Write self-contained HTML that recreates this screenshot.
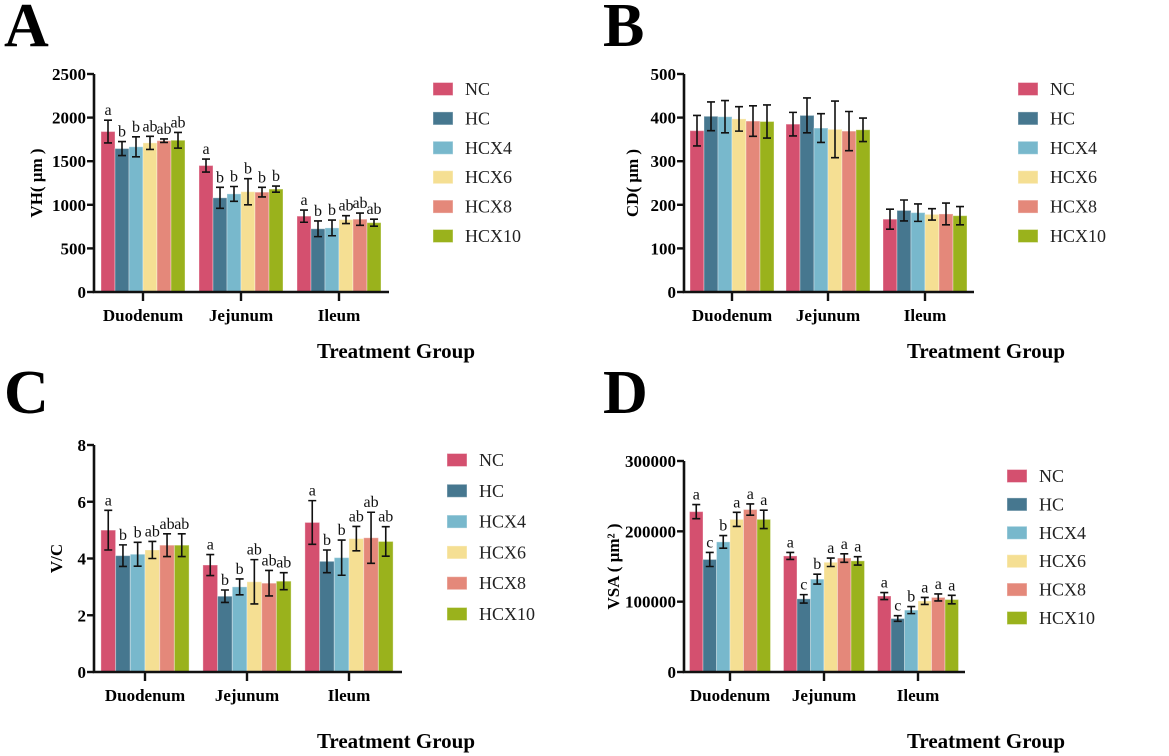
<!DOCTYPE html>
<html><head><meta charset="utf-8"><style>
html,body{margin:0;padding:0;background:#fff;width:1169px;height:756px;overflow:hidden}
svg{display:block}
svg text{font-family:"Liberation Serif","DejaVu Serif","Times New Roman",serif}
</style></head><body>
<svg id="fig" width="1169" height="756" xmlns="http://www.w3.org/2000/svg"></svg>
<script>
const categories = ["Duodenum","Jejunum","Ileum"];
const seriesNames = ["NC","HC","HCX4","HCX6","HCX8","HCX10"];
const colors = ["#d4506f","#46778f","#78b8cc","#f5df93","#e4887a","#9ab21c"];
const vhValues = [[1840,1645,1665,1710,1735,1740],[1450,1080,1125,1150,1145,1180],[870,725,735,830,835,795]];
const vhErrors = [[130,80,115,75,20,90],[75,120,85,150,55,35],[70,90,90,45,70,40]];
const vhLetters = [["a","b","b","ab","ab","ab"],["a","b","b","b","b","b"],["a","b","b","ab","ab","ab"]];
const vhTicks = [0,500,1000,1500,2000,2500];
const cdValues = [[370,403,402,397,392,391],[385,405,376,373,369,372],[167,187,182,178,179,175]];
const cdErrors = [[35,33,37,28,35,38],[27,40,33,65,45,27],[23,24,20,13,25,21]];
const cdTicks = [0,100,200,300,400,500];
const vcValues = [[5.0,4.1,4.15,4.3,4.47,4.47],[3.77,2.67,3.0,3.18,3.13,3.2],[5.27,3.9,4.03,4.7,4.73,4.6]];
const vcErrors = [[0.7,0.38,0.42,0.3,0.4,0.4],[0.37,0.22,0.28,0.78,0.45,0.3],[0.77,0.4,0.62,0.43,0.9,0.52]];
const vcLetters = [["a","b","b","ab","ab","ab"],["a","b","b","ab","ab","ab"],["a","b","b","ab","ab","ab"]];
const vcTicks = [0,2,4,6,8];
const vsaValues = [[228000,160000,185000,217000,231000,217000],[165000,104000,132000,156000,162000,158000],[108000,76000,88000,101000,106000,103000]];
const vsaErrors = [[10000,10000,9000,10000,8000,13000],[5000,6000,7000,6000,6000,6000],[5000,4000,5000,5000,5000,6000]];
const vsaLetters = [["a","c","b","a","a","a"],["a","c","b","a","a","a"],["a","c","b","a","a","a"]];
const vsaTicks = [0,100000,200000,300000];

const NS="http://www.w3.org/2000/svg";
const svg=document.getElementById('fig');
function mk(tag,attrs,parent,text){const e=document.createElementNS(NS,tag);for(const k in attrs)e.setAttribute(k,attrs[k]);if(text!==undefined)e.textContent=text;(parent||svg).appendChild(e);return e;}

function panel(o){
  const g=mk('g',{});
  
  
  const t=mk('text',{x:o.lx,y:o.ly,'font-size':62,'font-weight':'bold'},g,o.id);
  
  
  const yMax=o.ticks[o.ticks.length-1];
  const ys=v=>o.y0-(v/yMax)*(o.y0-o.yTop);
  categories.forEach((c,ci)=>{
    const cx=o.centers[ci];
    seriesNames.forEach((s,si)=>{
      const v=o.values[ci][si], e=o.errors[ci][si];
      const x=cx+(si-3)*o.bw;
      const r=mk('rect',{x:x,y:ys(v),width:o.bw,height:o.y0-ys(v),fill:colors[si],stroke:'rgba(255,255,255,0.35)','stroke-width':1},g);
      
      
      const mx=x+o.bw/2, top=ys(v+e), bot=ys(v-e);
      const eb=mk('path',{d:`M${mx},${top}V${bot}M${mx-4},${top}H${mx+4}M${mx-4},${bot}H${mx+4}`,stroke:'#111','stroke-width':1.6,fill:'none'},g);
      
      
      if(o.letters){
        const lt=mk('text',{x:mx,y:top-5,'font-size':16,'text-anchor':'middle',fill:'#111'},g,o.letters[ci][si]);
        
        
      }
    });
    const tk=mk('line',{x1:cx,x2:cx,y1:o.y0,y2:o.y0+9,stroke:'#111','stroke-width':2.4},g);
    
    
    const cl=mk('text',{x:cx,y:o.y0+29,'font-size':17,'font-weight':'bold','text-anchor':'middle'},g,c);
    
    
  });
  const ax=mk('path',{d:`M${o.ax},${o.yTop}V${o.y0}H${o.xEnd}`,stroke:'#111','stroke-width':2.6,fill:'none'},g);
  
  
  o.ticks.forEach(tv=>{
    const y=ys(tv);
    const l=mk('line',{x1:o.ax-7,x2:o.ax,y1:y,y2:y,stroke:'#111','stroke-width':2.4},g);
    
    
    const tl=mk('text',{x:o.ax-8,y:y+6,'font-size':17,'font-weight':'bold','text-anchor':'end'},g,String(tv));
    
    
  });
  const yt=mk('text',{x:o.ytx,y:(o.y0+o.yTop)/2,'font-size':17,'font-weight':'bold','text-anchor':'middle',transform:`rotate(-90 ${o.ytx} ${(o.y0+o.yTop)/2})`},g,o.ytitle);
  
  
  const xt=mk('text',{x:o.xtx,y:o.xty,'font-size':21,'font-weight':'bold','text-anchor':'middle'},g,'Treatment Group');
  
  
  seriesNames.forEach((s,si)=>{
    const y=o.legY+si*o.legDy;
    const sw=mk('rect',{x:o.legX,y:y-6.5,width:20,height:13,fill:colors[si],stroke:'rgba(255,255,255,0.4)'},g);
    
    
    const lt=mk('text',{x:o.legX+32,y:y+6,'font-size':18,fill:'#222'},g,s);
    
    
  });
}

panel({id:'A',lx:4,ly:46,values:vhValues,errors:vhErrors,letters:vhLetters,ticks:vhTicks,
  ax:94,y0:292,yTop:74,xEnd:389,centers:[143,241,339],bw:14,ytitle:'VH( μm )',ytx:42,
  xtx:396,xty:358,legX:433,legY:89,legDy:29.4});
panel({id:'B',lx:603,ly:46,values:cdValues,errors:cdErrors,letters:null,ticks:cdTicks,
  ax:684,y0:292,yTop:74,xEnd:974,centers:[732,828,925],bw:14,ytitle:'CD( μm )',ytx:638,
  xtx:986,xty:358,legX:1018,legY:89,legDy:29.4});
panel({id:'C',lx:4,ly:413,values:vcValues,errors:vcErrors,letters:vcLetters,ticks:vcTicks,
  ax:94,y0:672,yTop:445,xEnd:402,centers:[145,247,349],bw:14.7,ytitle:'V/C',ytx:62,
  xtx:396,xty:748,legX:447,legY:460,legDy:30.8});
panel({id:'D',lx:603,ly:413,values:vsaValues,errors:vsaErrors,letters:vsaLetters,ticks:vsaTicks,
  ax:684,y0:672,yTop:461,xEnd:965,centers:[730,824,918],bw:13.5,ytitle:'VSA ( μm² )',ytx:619,
  xtx:986,xty:748,legX:1007,legY:476,legDy:28.4});
</script>
</body></html>
